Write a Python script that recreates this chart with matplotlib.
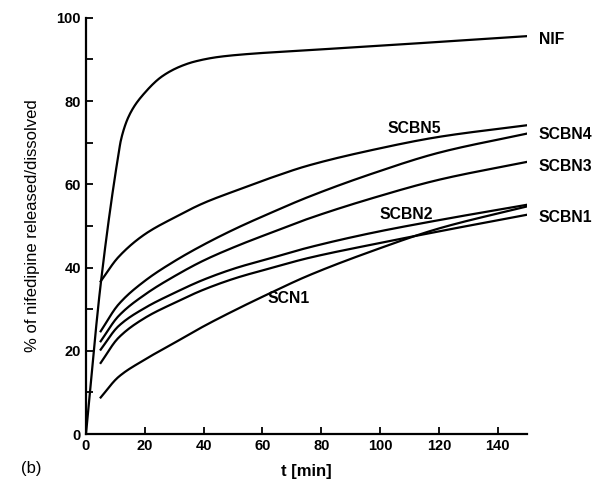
import numpy as np
import matplotlib
matplotlib.use("Agg")
from matplotlib import pyplot as plt
from matplotlib.ticker import MultipleLocator

plt.rcParams['font.family'] = ['Liberation Sans', 'DejaVu Sans']

# NIF (pure drug) dissolution
t_nif = [0, 5, 11, 12, 15, 20, 26, 32, 37, 45, 55, 75, 100, 150]
nif = [0, 36, 67, 71, 77, 82, 86, 88.3, 89.5, 90.6, 91.3, 92.2, 93.3, 95.6]

# release profiles of the formulations
t_rel = [5, 11, 20, 30, 40, 51, 63, 75, 97, 120, 150]
scbn5 = [36.7, 42.5, 48, 52, 55.5, 58.5, 61.6, 64.4, 68.2, 71.4, 74.2]
scbn4 = [24.7, 31.1, 36.8, 41.5, 45.5, 49.4, 53.2, 56.8, 62.5, 67.6, 72.2]
scbn3 = [22.3, 28.3, 33.5, 37.9, 41.7, 45.1, 48.4, 51.6, 56.6, 61.1, 65.4]
scbn2 = [20.3, 25.9, 30.3, 33.9, 37.1, 39.9, 42.3, 44.7, 48.3, 51.4, 55.1]
scbn1 = [17.1, 23.1, 27.9, 31.5, 34.7, 37.5, 39.9, 42.2, 45.5, 48.7, 52.7]
scn1 = [8.8, 13.7, 17.9, 21.9, 25.9, 29.9, 34.0, 37.9, 43.9, 49.4, 54.7]

def smooth(x, y, n=300):
    # monotone cubic (PCHIP-like) through the read points
    x = np.asarray(x, float)
    y = np.asarray(y, float)
    h = np.diff(x)
    d = np.diff(y) / h
    m = np.zeros_like(y)
    m[0], m[-1] = d[0], d[-1]
    for i in range(1, len(y) - 1):
        if d[i - 1] * d[i] > 0:
            w1 = 2 * h[i] + h[i - 1]
            w2 = h[i] + 2 * h[i - 1]
            m[i] = (w1 + w2) / (w1 / d[i - 1] + w2 / d[i])
    xs = np.linspace(x[0], x[-1], n)
    idx = np.clip(np.searchsorted(x, xs) - 1, 0, len(x) - 2)
    s = (xs - x[idx]) / h[idx]
    h00 = 2 * s**3 - 3 * s**2 + 1
    h10 = s**3 - 2 * s**2 + s
    h01 = -2 * s**3 + 3 * s**2
    h11 = s**3 - s**2
    ys = h00 * y[idx] + h10 * h[idx] * m[idx] + h01 * y[idx + 1] + h11 * h[idx] * m[idx + 1]
    return xs, ys

fig = plt.figure(figsize=(5.97, 4.95), dpi=100)
ax = fig.add_axes([0.144, 0.123, 0.739, 0.841])

lw = 1.6
ax.plot(*smooth(t_nif, nif, 600), color='black', lw=lw)
for series in [scbn5, scbn4, scbn3, scbn2, scbn1, scn1]:
    ax.plot(*smooth(t_rel, series), color='black', lw=lw)

lab = dict(fontsize=11.3, fontweight='bold', va='center')
ax.text(154, 94.7, 'NIF', ha='left', **lab)
ax.text(154, 71.9, 'SCBN4', ha='left', **lab)
ax.text(154, 64.2, 'SCBN3', ha='left', **lab)
ax.text(154, 52.0, 'SCBN1', ha='left', **lab)
ax.text(111.5, 73.3, 'SCBN5', ha='center', **lab)
ax.text(109, 52.7, 'SCBN2', ha='center', **lab)
ax.text(69, 32.5, 'SCN1', ha='center', **lab)

ax.set_xlim(0, 150)
ax.set_ylim(0, 100)
ax.xaxis.set_major_locator(MultipleLocator(20))
ax.yaxis.set_major_locator(MultipleLocator(20))
ax.yaxis.set_minor_locator(MultipleLocator(10))
ax.tick_params(direction='in', length=5, width=1.3, labelsize=10.5)
ax.tick_params(which='minor', direction='in', length=5, width=1.3)
for lbl in ax.get_xticklabels() + ax.get_yticklabels():
    lbl.set_fontweight('bold')

for side in ['top', 'right']:
    ax.spines[side].set_visible(False)
for side in ['left', 'bottom']:
    ax.spines[side].set_linewidth(1.6)

ax.set_xlabel('t [min]', fontsize=12, fontweight='bold', labelpad=8)
ax.set_ylabel('% of nifedipine released/dissolved', fontsize=12, labelpad=12)
fig.text(0.035, 0.045, '(b)', fontsize=12)

fig.savefig('out.png', dpi=100)
